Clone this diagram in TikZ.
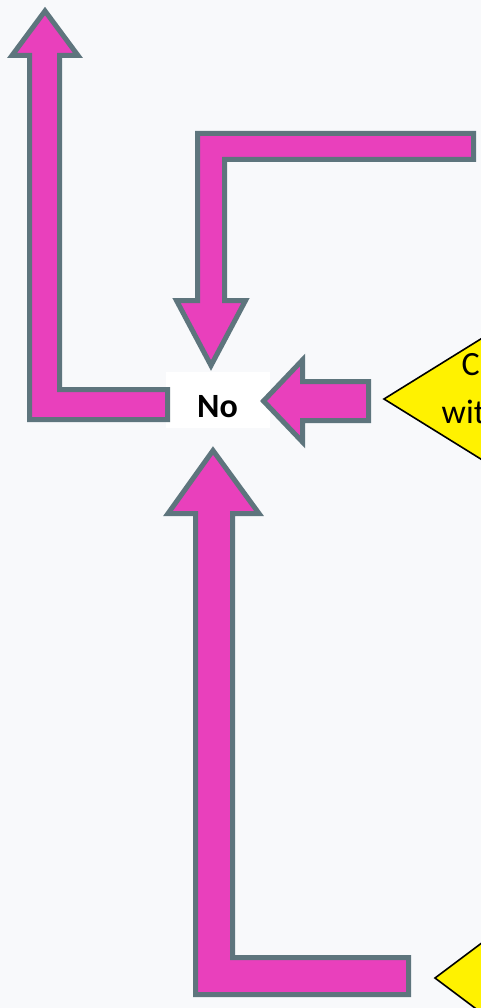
\documentclass[tikz,border=0pt]{standalone}
\usepackage{fontspec}
\setmainfont{Carlito}
\definecolor{bg}{HTML}{F8F9FB}
\definecolor{mag}{HTML}{E940BC}
\definecolor{edgecol}{HTML}{5E757D}
\begin{document}
\begin{tikzpicture}[x=1pt,y=-1pt,
  blockarrow/.style={fill=mag,draw=edgecol,line width=5pt,line join=miter},
  decision/.style={fill=yellow,draw=black,line width=1.6pt,line join=miter},
  dtext/.style={font=\fontsize{34}{40}\selectfont,inner sep=0pt,anchor=base west},
  notext/.style={font=\bfseries\fontsize{34}{40}\selectfont,inner sep=0pt,anchor=base}]
\fill[bg] (0,0) rectangle (481,1008);
\useasboundingbox (0,0) rectangle (481,1008);
\clip (0,0) rectangle (481,1008);

% "No" box
\node[fill=white,minimum width=104pt,minimum height=56pt,inner sep=0pt] (nobox) at (218,400) {};

% arrow 1: up and out to the top-left
\draw[blockarrow] (45,11) -- (78,55.5) -- (59.5,55.5) -- (59.5,389.5) -- (167.5,389.5)
  -- (167.5,419.5) -- (29.5,419.5) -- (29.5,55.5) -- (12,55.5) -- cycle;

% arrow 2: from the top right down into "No"
\draw[blockarrow] (473.5,133.5) -- (473.5,159.5) -- (224.5,159.5) -- (224.5,300.5)
  -- (245.5,300.5) -- (211,365.5) -- (176.5,300.5) -- (197.5,300.5) -- (197.5,133.5) -- cycle;

% arrow 3: from the diamond left into "No"
\draw[blockarrow] (263.5,401) -- (302.5,360) -- (302.5,381.5) -- (368.5,381.5)
  -- (368.5,420.5) -- (302.5,420.5) -- (302.5,442) -- cycle;

% arrow 4: from the bottom right up into "No"
\draw[blockarrow] (213,450.5) -- (259,513.5) -- (232.5,513.5) -- (232.5,957.5)
  -- (408.5,957.5) -- (408.5,994.5) -- (195.5,994.5) -- (195.5,513.5) -- (168,513.5) -- cycle;

% decisions (cut off at the right edge)
\draw[decision] (384,399) -- (584,275) -- (784,399) -- (584,523) -- cycle;
\coordinate (d1) at (384,399);
\draw[decision] (435,978) -- (635,828) -- (835,978) -- (635,1128) -- cycle;
\coordinate (d2) at (435,978);

% texts
\node[notext] (no) at (217.5,417) {No};
\node[dtext] (d1l1) at (461.5,375) {C};
\node[dtext] (d1l2) at (441.5,423) {wit};
\end{tikzpicture}
\end{document}
